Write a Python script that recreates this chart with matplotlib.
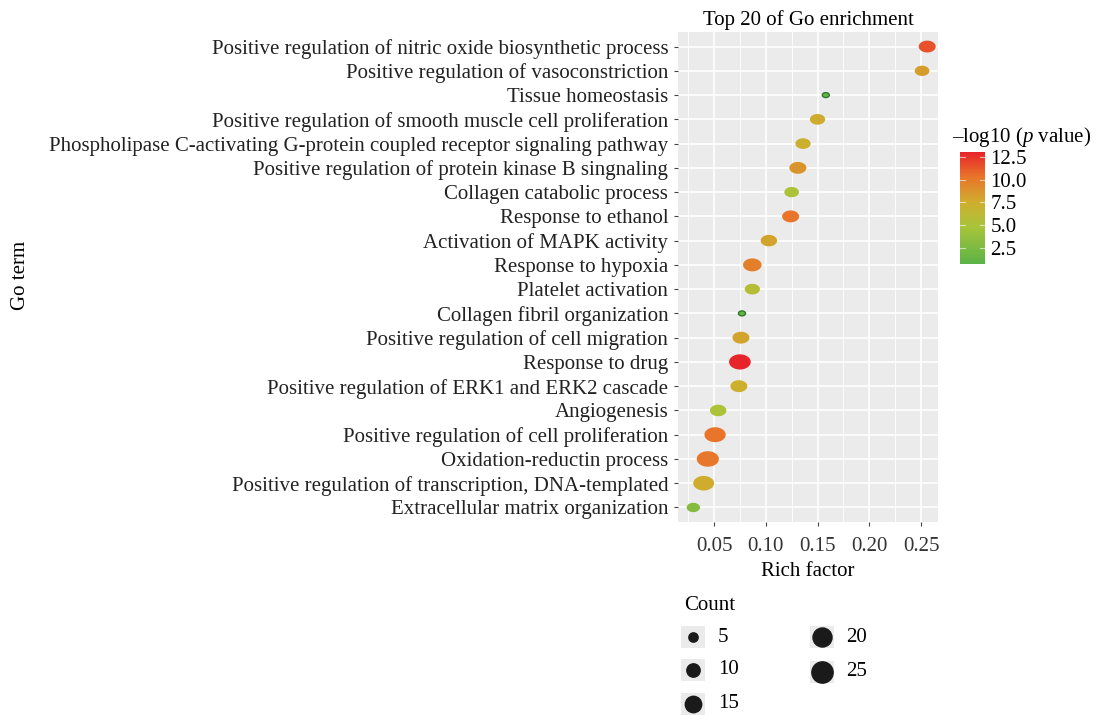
import numpy as np
import matplotlib.pyplot as plt
from matplotlib.path import Path
from matplotlib.colors import LinearSegmentedColormap, Normalize
from matplotlib.colorbar import ColorbarBase

plt.rcParams["font.family"] = ["Liberation Serif", "DejaVu Serif"]
plt.rcParams["mathtext.fontset"] = "custom"
plt.rcParams["mathtext.it"] = "Liberation Serif:italic"
plt.rcParams["mathtext.rm"] = "Liberation Serif"

terms = [
    "Positive regulation of nitric oxide biosynthetic process",
    "Positive regulation of vasoconstriction",
    "Tissue homeostasis",
    "Positive regulation of smooth muscle cell proliferation",
    "Phospholipase C-activating G-protein coupled receptor signaling pathway",
    "Positive regulation of protein kinase B singnaling",
    "Collagen catabolic process",
    "Response to ethanol",
    "Activation of MAPK activity",
    "Response to hypoxia",
    "Platelet activation",
    "Collagen fibril organization",
    "Positive regulation of cell migration",
    "Response to drug",
    "Positive regulation of ERK1 and ERK2 cascade",
    "Angiogenesis",
    "Positive regulation of cell proliferation",
    "Oxidation-reductin process",
    "Positive regulation of transcription, DNA-templated",
    "Extracellular matrix organization",
]
rich_factor = [0.256, 0.251, 0.158, 0.150, 0.136, 0.131, 0.125, 0.124, 0.103, 0.087,
               0.087, 0.077, 0.076, 0.075, 0.074, 0.054, 0.051, 0.044, 0.040, 0.030]
counts = [16, 12, 3, 13, 13, 16, 12, 16, 15, 19,
          13, 3, 16, 26, 16, 15, 25, 27, 24, 10]
neglog_p = [11.5, 8.3, 1.2, 7.6, 7.2, 8.8, 5.0, 10.3, 8.0, 9.8,
            5.6, 1.3, 8.0, 13.0, 7.4, 5.0, 10.3, 10.2, 7.6, 3.0]
legend_counts = [5, 10, 15, 20, 25]
cbar_ticks = [2.5, 5.0, 7.5, 10.0, 12.5]
xticks = [0.05, 0.10, 0.15, 0.20, 0.25]

cmap = LinearSegmentedColormap.from_list(
    "gr", [(0.0, "#5BB346"), (0.33, "#A8C43A"), (0.55, "#CFAE2E"),
           (0.78, "#E8742A"), (1.0, "#E8232B")])
norm = Normalize(vmin=0.74, vmax=13.05)

FS = 15


def marker_size(c):
    # area grows linearly with count; returns scatter s in pt^2
    d_px = np.sqrt(max(18.36 * c - 5.3, 1.0))
    return (d_px * 0.72) ** 2


# ellipse-shaped marker (points look stretched in the original)
t = np.linspace(0, 2 * np.pi, 60)
ell = Path(np.column_stack([np.cos(t), 0.7 * np.sin(t)]), closed=True)

fig = plt.figure(figsize=(11.03, 7.16), dpi=100)
ax = fig.add_axes([0.6147, 0.2709, 0.2357, 0.6844])
ax.set_facecolor("#EBEBEB")

n = len(terms)
ypos = np.arange(n)[::-1]
sizes = [marker_size(c) for c in counts]
edge_w = [1.0 if c < 5 else 0.0 for c in counts]
ax.scatter(rich_factor, ypos, s=sizes, c=neglog_p, cmap=cmap, norm=norm,
           marker=ell, linewidths=edge_w, edgecolors="#2E7A2E", zorder=3)

ax.set_xlim(0.0152, 0.2664)
ax.set_ylim(-0.6, n - 0.4)
ax.set_xticks(xticks)
ax.set_xticklabels([f"{v:.2f}" for v in xticks], fontsize=FS, color="#333333")
ax.set_xticks(np.arange(0.025, 0.27, 0.05), minor=True)
ax.set_yticks(ypos)
ax.set_yticklabels(terms, fontsize=FS, color="#222222")
ax.grid(True, which="major", color="white", linewidth=1.2)
ax.grid(True, which="minor", color="white", linewidth=0.6)
ax.tick_params(which="major", length=3, color="#444444")
ax.tick_params(axis="x", which="major", pad=8)
ax.tick_params(axis="y", which="major", pad=4)
ax.tick_params(which="minor", length=0)
for s in ax.spines.values():
    s.set_visible(False)
ax.set_axisbelow(True)
ax.set_xlabel("Rich factor", fontsize=FS, labelpad=4)
ax.set_title("Top 20 of Go enrichment", fontsize=FS, pad=5)
fig.text(0.019, 0.615, "Go term", rotation=90, fontsize=FS, va="center", ha="center")

# colorbar
cax = fig.add_axes([960 / 1103, 1 - 264 / 716, 25 / 1103, 112 / 716])
cb = ColorbarBase(cax, cmap=cmap, norm=norm, ticks=cbar_ticks)
cb.outline.set_visible(False)
cb.ax.tick_params(length=0, labelsize=FS, pad=4)
cb.ax.set_yticklabels([f"{v:.1f}" for v in cbar_ticks])
for v in cbar_ticks:
    cax.axhline(v, xmin=0, xmax=0.2, color="white", lw=0.8, alpha=0.6)
    cax.axhline(v, xmin=0.8, xmax=1, color="white", lw=0.8, alpha=0.6)
fig.text(952 / 1103, 1 - 137 / 716, "\u2013log10 ($\\mathit{p}$ value)",
         fontsize=FS, va="center", ha="left")

# size legend
fig.text(684 / 1103, 1 - 606 / 716, "Count", fontsize=FS, va="center", ha="left")
lax = fig.add_axes([0, 0, 1, 1], facecolor="none")
lax.set_xlim(0, 1103)
lax.set_ylim(716, 0)
lax.axis("off")
cols = [(693, 718), (693, 718), (693, 718), (822, 846), (822, 846)]
rows = [637, 670, 704, 637, 672]
for c, (kx, lx), ry in zip(legend_counts, cols, rows):
    lax.add_patch(plt.Rectangle((kx - 12, ry - 11), 24, 22, color="#EBEBEB", lw=0))
    lax.scatter([kx], [ry], s=marker_size(c), color="#1a1a1a", zorder=3)
    lax.text(lx, ry, str(c), fontsize=FS, va="center", ha="left")

fig.savefig("out.png", dpi=100)
